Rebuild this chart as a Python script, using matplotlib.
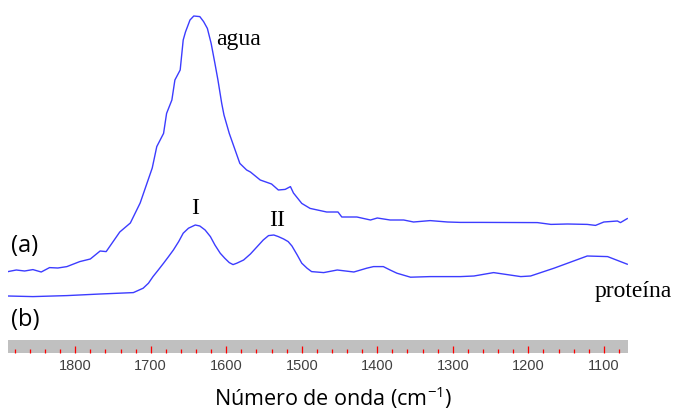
import matplotlib
matplotlib.use("Agg")
import matplotlib.pyplot as plt
from matplotlib.ticker import MultipleLocator

# Wavenumbers (cm-1) and absorbance (arbitrary units)
wn_a = [1889, 1878, 1867, 1856, 1845, 1834, 1823, 1811, 1794, 1780, 1767, 1759, 1741, 1727,
        1714, 1698, 1692, 1683, 1679, 1672, 1668, 1661, 1657, 1654, 1648, 1643, 1635, 1630,
        1625, 1620, 1615, 1611, 1606, 1603, 1596, 1582, 1573, 1568, 1555, 1540, 1531, 1522,
        1515, 1511, 1500, 1489, 1467, 1452, 1447, 1427, 1409, 1400, 1383, 1365, 1352, 1330,
        1307, 1290, 1263, 1188, 1170, 1148, 1122, 1111, 1100, 1082, 1078, 1069]
abs_a = [0.342, 0.35, 0.345, 0.352, 0.34, 0.362, 0.36, 0.367, 0.392, 0.405, 0.445, 0.442,
         0.54, 0.585, 0.685, 0.86, 0.967, 1.033, 1.133, 1.20, 1.30, 1.35, 1.50, 1.54, 1.60,
         1.62, 1.617, 1.592, 1.558, 1.483, 1.383, 1.30, 1.183, 1.125, 1.033, 0.883, 0.85,
         0.84, 0.80, 0.78, 0.75, 0.753, 0.767, 0.735, 0.683, 0.658, 0.64, 0.64, 0.615, 0.615,
         0.60, 0.61, 0.60, 0.60, 0.59, 0.597, 0.59, 0.588, 0.588, 0.587, 0.578, 0.58, 0.578,
         0.573, 0.59, 0.595, 0.587, 0.607]

wn_b = [1889, 1856, 1811, 1767, 1723, 1710, 1703, 1697, 1690, 1683, 1677, 1670, 1663, 1657,
        1650, 1641, 1635, 1628, 1621, 1615, 1608, 1602, 1596, 1591, 1586, 1577, 1568, 1559,
        1551, 1544, 1537, 1531, 1524, 1518, 1513, 1506, 1500, 1493, 1487, 1471, 1453, 1431,
        1414, 1405, 1392, 1383, 1374, 1356, 1330, 1290, 1272, 1246, 1210, 1197, 1166, 1122,
        1095, 1069]
abs_b = [0.22, 0.217, 0.222, 0.23, 0.237, 0.259, 0.284, 0.317, 0.35, 0.384, 0.414, 0.45,
         0.492, 0.534, 0.559, 0.575, 0.57, 0.55, 0.517, 0.475, 0.434, 0.409, 0.387, 0.377,
         0.384, 0.40, 0.43, 0.467, 0.50, 0.522, 0.525, 0.517, 0.505, 0.492, 0.47, 0.425,
         0.384, 0.359, 0.342, 0.337, 0.35, 0.34, 0.359, 0.367, 0.367, 0.35, 0.334, 0.314,
         0.317, 0.317, 0.32, 0.337, 0.317, 0.32, 0.359, 0.42, 0.417, 0.379]

x_min, x_max = 1889, 1068
major_ticks = [1800, 1700, 1600, 1500, 1400, 1300, 1200, 1100]
tick_labels = ["1800", "1700", "1600", "1500", "1400", "1300", "1200", "1100"]

W, H = 683, 413
fig = plt.figure(figsize=(W / 100, H / 100), dpi=100)
fig.patch.set_facecolor("white")

line_color = "#3c3cff"

# Spectra axes
ax = fig.add_axes([8 / W, (H - 340) / H, 620 / W, 340 / H])
ax.plot(wn_a, abs_a, color=line_color, lw=1.0)
ax.plot(wn_b, abs_b, color=line_color, lw=1.0)
ax.set_xlim(x_min, x_max)
ax.set_ylim(0, 1.70)
ax.axis("off")

# Gray scale bar with red ticks
bx = fig.add_axes([8 / W, (H - 353) / H, 620 / W, 13 / H])
bx.set_facecolor("#c0c0c0")
bx.set_xlim(x_min, x_max)
bx.set_ylim(0, 1)
for s in bx.spines.values():
    s.set_visible(False)
bx.set_yticks([])
bx.set_xticks(major_ticks)
bx.set_xticklabels(tick_labels)
bx.xaxis.set_minor_locator(MultipleLocator(20))
bx.tick_params(axis="x", which="major", direction="in", length=5.2, width=0.9,
               color="#ff0000", pad=4.5, labelsize=10.5, labelcolor="#404040")
bx.tick_params(axis="x", which="minor", direction="in", length=2.8, width=0.9,
               color="#ff0000")
for t in bx.get_xticklabels():
    t.set_fontfamily("Liberation Sans")

# Annotations
serif = "Liberation Serif"
sans = "Open Sans"
fig.text(216 / W, 1 - 40 / H, "agua", family=serif, fontsize=17, va="center", ha="left")
fig.text(195 / W, 1 - 208 / H, "I", family=serif, fontsize=17, va="center", ha="center")
fig.text(277 / W, 1 - 220 / H, "II", family=serif, fontsize=17, va="center", ha="center")
fig.text(595 / W, 1 - 292 / H, "proteína", family=serif, fontsize=17, va="center", ha="left")
fig.text(11 / W, 1 - 246 / H, "(a)", family=sans, fontsize=17, va="center", ha="left")
fig.text(11 / W, 1 - 320 / H, "(b)", family=sans, fontsize=17, va="center", ha="left")
fig.text(333 / W, 1 - 398 / H, r"Número de onda (cm$^{\mathregular{-1}}$)", family=sans,
         fontsize=15.5, va="center", ha="center")

fig.savefig("out.png", dpi=100, facecolor="white")
